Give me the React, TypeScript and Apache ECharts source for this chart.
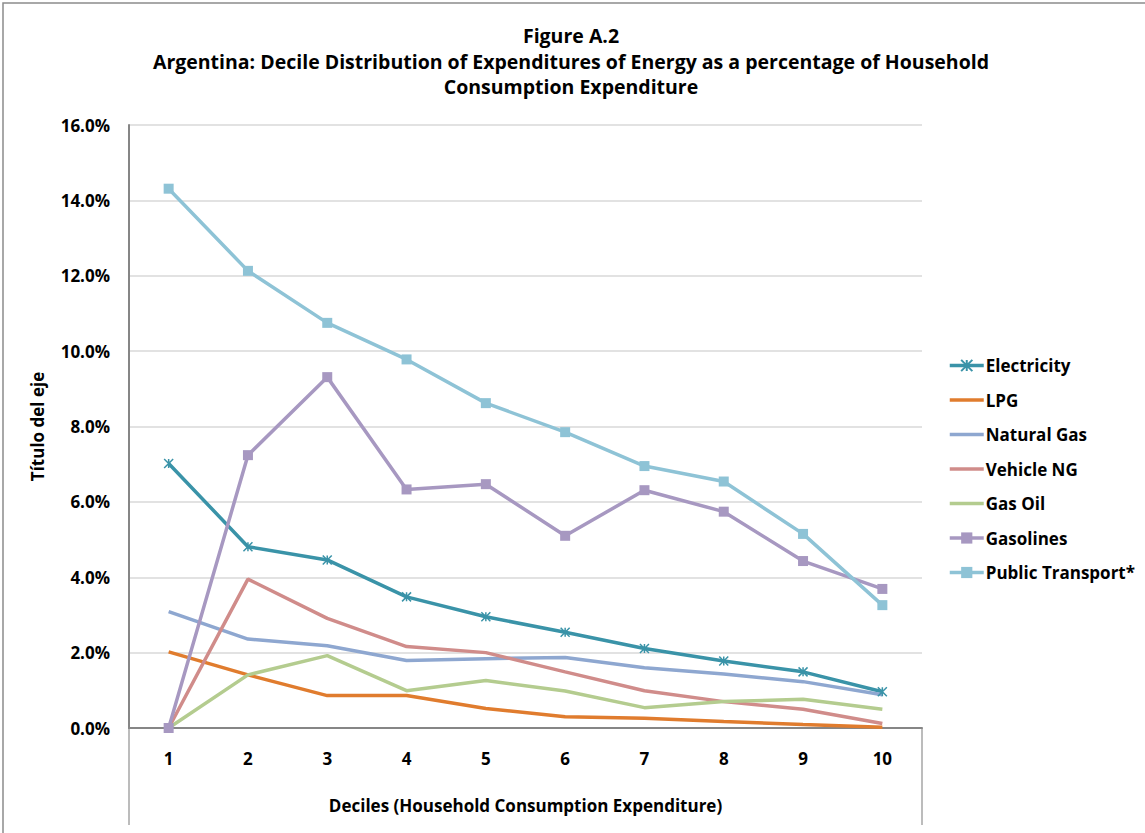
import React, { useEffect, useRef } from "react";
import * as echarts from "echarts";

const deciles = ["1", "2", "3", "4", "5", "6", "7", "8", "9", "10"];
const electricity = [7.02, 4.81, 4.46, 3.48, 2.95, 2.54, 2.11, 1.78, 1.49, 0.96];
const lpg = [2.02, 1.41, 0.86, 0.86, 0.52, 0.3, 0.26, 0.17, 0.09, 0.02];
const naturalGas = [3.09, 2.36, 2.18, 1.79, 1.84, 1.87, 1.6, 1.43, 1.23, 0.88];
const vehicleNG = [0.0, 3.95, 2.91, 2.16, 2.0, 1.49, 0.99, 0.7, 0.5, 0.12];
const gasOil = [0.0, 1.41, 1.92, 0.99, 1.26, 0.98, 0.54, 0.7, 0.76, 0.5];
const gasolines = [0.0, 7.24, 9.31, 6.33, 6.47, 5.1, 6.31, 5.74, 4.43, 3.69];
const publicTransport = [14.31, 12.13, 10.75, 9.78, 8.62, 7.85, 6.95, 6.54, 5.15, 3.26];

const FONT = "'Open Sans', 'Noto Sans', sans-serif";

export default function App() {
  const ref = useRef<HTMLDivElement>(null);
  useEffect(() => {
    if (!ref.current) return;
    const chart = echarts.init(ref.current, undefined, { renderer: "svg" });
    const star = "path://M0,0L10,10M10,0L0,10M5,0L5,10";
    const mk = (name: string, data: number[], color: string, symbol: string) => ({
      name,
      type: "line",
      data,
      symbol,
      symbolSize: symbol === "rect" ? 10 : 9,
      showSymbol: symbol !== "none",
      lineStyle: { color, width: 3.5 },
      itemStyle:
        symbol === star
          ? { color: "transparent", borderColor: color, borderWidth: 1.5 }
          : { color },
      color,
      z: 2,
    });
    const plain = (name: string) => ({ name, itemStyle: { opacity: 0 }, lineStyle: { width: 3.5 } });
    chart.setOption({
      animation: false,
      backgroundColor: "#ffffff",
      title: {
        text: "Figure A.2\nArgentina: Decile Distribution of Expenditures of Energy as a percentage of Household\nConsumption Expenditure",
        left: 566,
        textAlign: "center",
        top: 18,
        textStyle: {
          fontFamily: FONT,
          fontWeight: "bold",
          fontSize: 19.5,
          lineHeight: 25.5,
          color: "#000",
        },
      },
      grid: { left: 129, right: 223, top: 125, bottom: 105, containLabel: false },
      xAxis: {
        type: "category",
        data: deciles,
        boundaryGap: true,
        name: "Deciles (Household Consumption Expenditure)",
        nameLocation: "middle",
        nameGap: 69,
        nameTextStyle: { fontFamily: FONT, fontWeight: "bold", fontSize: 17, color: "#000" },
        axisLine: { lineStyle: { color: "#868686", width: 2 } },
        axisTick: { show: false },
        axisLabel: { fontFamily: FONT, fontWeight: "bold", fontSize: 17, color: "#000", margin: 22 },
      },
      yAxis: {
        type: "value",
        min: 0,
        max: 16,
        interval: 2,
        name: "Título del eje",
        nameLocation: "middle",
        nameGap: 83,
        nameRotate: 90,
        nameTextStyle: { fontFamily: FONT, fontWeight: "bold", fontSize: 17, color: "#000" },
        axisLine: { show: true, lineStyle: { color: "#868686", width: 2 } },
        axisTick: { show: false },
        splitLine: { lineStyle: { color: "#D9D9D9", width: 1.5 } },
        axisLabel: {
          fontFamily: FONT,
          fontWeight: "bold",
          fontSize: 17,
          color: "#000",
          margin: 19,
          formatter: (v: number) => v.toFixed(1) + "%",
        },
      },
      legend: {
        orient: "vertical",
        left: 948,
        top: 357,
        padding: 0,
        itemWidth: 34,
        itemHeight: 14,
        itemGap: 17.5,
        lineStyle: { width: 3.5 },
        textStyle: { fontFamily: FONT, fontWeight: "bold", fontSize: 17, color: "#000", padding: [0, 0, 0, -3] },
        data: [
          "Electricity",
          plain("LPG"),
          plain("Natural Gas"),
          plain("Vehicle NG"),
          plain("Gas Oil"),
          "Gasolines",
          "Public Transport*",
        ],
      },
      graphic: [
        { type: "rect", shape: { x: 3, y: 3, width: 1300, height: 1000 }, style: { fill: "none", stroke: "#8C8C8C", lineWidth: 1.5 }, silent: true },
        { type: "line", shape: { x1: 129, y1: 728, x2: 129, y2: 825 }, style: { stroke: "#A6A6A6", lineWidth: 1.5 }, silent: true },
        { type: "line", shape: { x1: 922, y1: 728, x2: 922, y2: 825 }, style: { stroke: "#A6A6A6", lineWidth: 1.5 }, silent: true },
      ],
      series: [
        mk("Electricity", electricity, "#3A93A8", star),
        mk("LPG", lpg, "#E07C2E", "none"),
        mk("Natural Gas", naturalGas, "#8EA7D0", "none"),
        mk("Vehicle NG", vehicleNG, "#D08C8A", "none"),
        mk("Gas Oil", gasOil, "#B4CC8F", "none"),
        mk("Gasolines", gasolines, "#A798C1", "rect"),
        mk("Public Transport*", publicTransport, "#8EC3D6", "rect"),
      ],
    });
    return () => chart.dispose();
  }, []);
  return (
    <div
      ref={ref}
      style={{ position: "fixed", left: 0, top: 0, width: 1145, height: 833, background: "#fff" }}
    />
  );
}
